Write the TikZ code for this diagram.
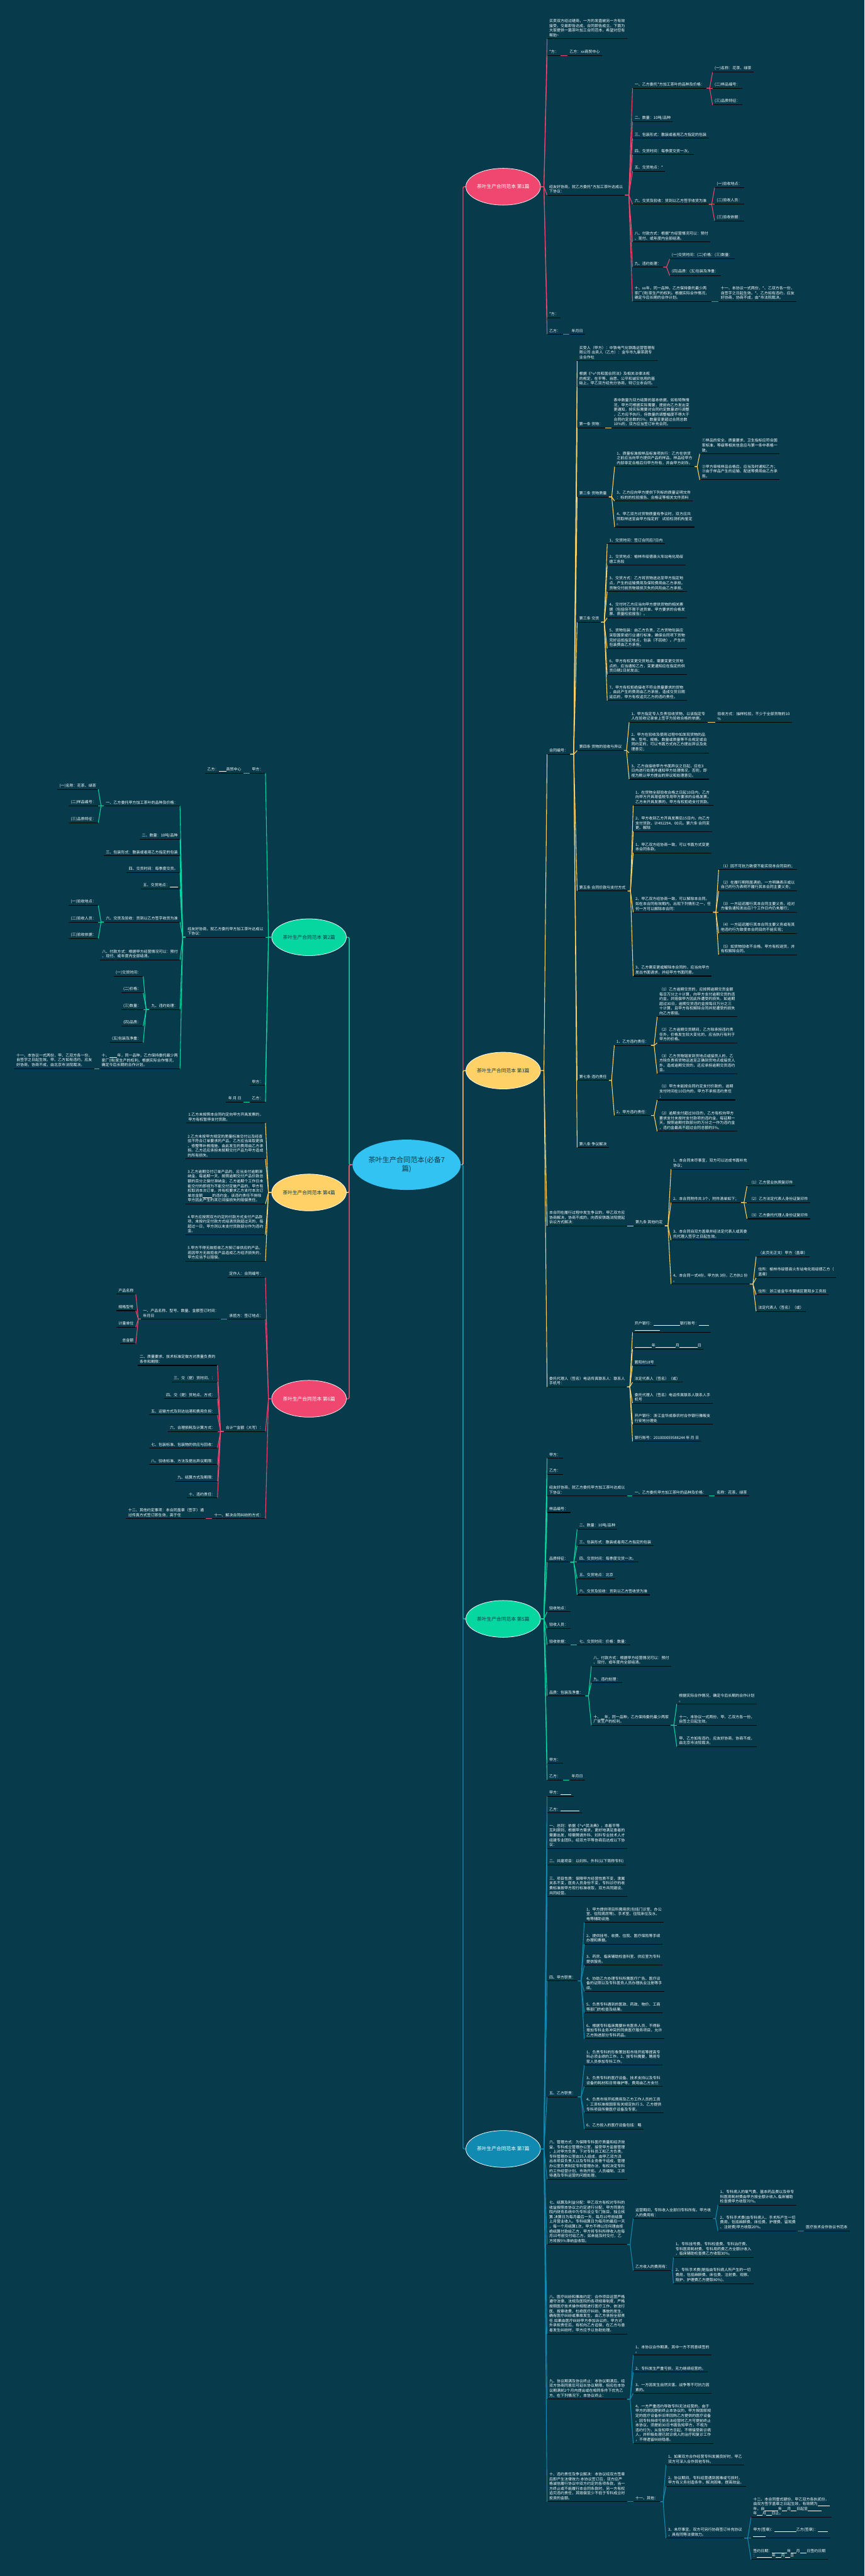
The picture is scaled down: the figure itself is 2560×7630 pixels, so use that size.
\documentclass[tikz,border=0pt]{standalone}
\usepackage{fontspec}
\setmainfont{Noto Sans CJK SC}
\usetikzlibrary{shapes.geometric,calc}
\definecolor{bg}{HTML}{073B4C}
\definecolor{pk}{HTML}{EF476F}
\definecolor{yl}{HTML}{FFD166}
\definecolor{gn}{HTML}{06D6A0}
\definecolor{bu}{HTML}{118AB2}
\definecolor{cb}{HTML}{33C3F3}
\newcommand\tfnt{\fontsize{5.6pt}{7.1pt}\selectfont}
\newcommand\blk[1]{\rule[-0.8pt]{#1}{0.4pt}}
\tikzset{
  lr/.style={anchor=south west, align=left, text=white, font=\tfnt, inner xsep=3pt, inner ysep=2.5pt},
  ll/.style={anchor=south east, align=left, text=white, font=\tfnt, inner xsep=3pt, inner ysep=2.5pt},
  ul/.style={draw=black, line width=1pt},
  br/.style={ellipse, minimum width=110.5pt, minimum height=54.5pt, inner sep=0pt, draw=white, line width=0.7pt, font=\fontsize{7.2pt}{9pt}\selectfont},
  cpk/.style={draw=pk, line width=1pt},
  cyl/.style={draw=yl, line width=1pt},
  cgn/.style={draw=gn, line width=1pt},
  cbu/.style={draw=bu, line width=1pt},
  trunk/.style={line width=1.3pt, rounded corners=2pt}
}
\newcommand\RN[4]{\node[lr] (#1) at (#2,#3) {#4}; \draw[ul] (#1.south west) -- (#1.south east);}
\newcommand\LN[4]{\node[ll] (#1) at (#2,#3) {#4}; \draw[ul] (#1.south west) -- (#1.south east);}
\newcommand\cnx[3]{\draw[#1] let \p1=(#2), \p2=(#3) in (\p1) -- ({0.5*\x1+0.5*\x2},\y1) -- (\p2);}
\newcommand\kidsR[3]{\foreach \kk in {#3}{\cnx{#1}{#2}{\kk.south west}}}
\newcommand\kidsL[3]{\foreach \kk in {#3}{\cnx{#1}{#2}{\kk.south east}}}
\begin{document}
\begin{tikzpicture}[x=0.5pt,y=-0.5pt]
\fill[bg] (0,0) rectangle (2560,7630);
\useasboundingbox (0,0) rectangle (2560,7630);

% central
\node[ellipse, fill=cb, minimum width=156pt, minimum height=74.5pt, inner sep=0pt, align=center, text=bg, font=\fontsize{10.4pt}{13pt}\selectfont] (C) at (1204,3450) {茶叶生产合同范本(必备7\\篇)};

% branch ellipses
\node[br, fill=pk, text=white] (b1) at (1490,553) {茶叶生产合同范本 第1篇};
\node[br, fill=yl, text=bg] (b3) at (1490,3171) {茶叶生产合同范本 第3篇};
\node[br, fill=gn, text=bg] (b5) at (1490,4795) {茶叶生产合同范本 第5篇};
\node[br, fill=bu, text=white] (b7) at (1490,6365) {茶叶生产合同范本 第7篇};
\node[br, fill=gn, text=bg] (b2) at (915,2776) {茶叶生产合同范本 第2篇};
\node[br, fill=yl, text=bg] (b4) at (915,3532) {茶叶生产合同范本 第4篇};
\node[br, fill=pk, text=white] (b6) at (915,4143) {茶叶生产合同范本 第6篇};

\draw[cpk,trunk] (C.east) -- (1371,3450) -- (1371,553) -- (b1.west);
\draw[cyl,trunk] (C.east) -- (1371,3450) -- (1371,3171) -- (b3.west);
\draw[cgn,trunk] (C.east) -- (1371,3450) -- (1371,4795) -- (b5.west);
\draw[cbu,trunk] (C.east) -- (1371,3450) -- (1371,6365) -- (b7.west);
\draw[cgn,trunk] (C.west) -- (1034,3450) -- (1034,2776) -- (b2.east);
\draw[cyl,trunk] (C.west) -- (1034,3450) -- (1034,3532) -- (b4.east);
\draw[cpk,trunk] (C.west) -- (1034,3450) -- (1034,4143) -- (b6.east);

% ---------------- branch 1
\RN{a1}{1620}{115}{买卖双方经过磋商，一方的发盘被另一方有效\\接受，交易即告达成，合同即告成立。下面为\\大家提供一篇茶叶加工合同范本，希望对您有\\帮助\textasciitilde}
\RN{a2}{1620}{164}{*方：}
\RN{a2a}{1680}{164}{乙方：xx商贸中心}
\RN{a3}{1620}{578}{经友好协商，就乙方委托*方加工茶叶达成以\\下协议：}
\RN{a31}{1873}{261}{一、乙方委托*方加工茶叶的品种及价格：}
\RN{a311}{2110}{214}{(一)名称：花茶、绿茶}
\RN{a312}{2110}{261}{(二)样品编号：}
\RN{a313}{2110}{311}{(三)品质特征：}
\RN{a32}{1873}{360}{二、数量：10吨/品种}
\RN{a33}{1873}{409}{三、包装形式：散装或者用乙方指定的包装}
\RN{a34}{1873}{458}{四、交货时间：每季度交货一次。}
\RN{a35}{1873}{507}{五、交货地点：*}
\RN{a36}{1873}{605}{六、交货及验收：货到以乙方签字收货为准}
\RN{a361}{2116}{556}{(一)验收地点：}
\RN{a362}{2116}{605}{(二)验收人员：}
\RN{a363}{2116}{654}{(三)验收依据：}
\RN{a37}{1873}{717}{八、付款方式：根据*方经营情况可以：预付\\、现付、或年度内全部结清。}
\RN{a38}{1873}{791}{九、违约处理：}
\RN{a381}{1983}{767}{(一)交货时间：(二)价格：(三)数量：}
\RN{a382}{1983}{816}{(四)品质：(五)包装及净重：}
\RN{a39}{1873}{893}{十、xx年，同一品种，乙方保持委托最少两\\家厂(场)家生产的权利。根据实际合作情况，\\确定今后长期的合作计划。}
\RN{a391}{2128}{893}{十一、本协议一式两份，*、乙双方各一份，\\自签字之日起生效。*、乙方如有违约，应友\\好协商，协商不成，由*市法院裁决。}
\RN{a4}{1620}{941}{*方：}
\RN{a5}{1620}{990}{乙方：}
\RN{a5a}{1686}{990}{年月日}
\kidsR{cpk}{b1.east}{a1,a2,a3,a4,a5}
\kidsR{cpk}{a2.south east}{a2a}
\kidsR{cpk}{a3.south east}{a31,a32,a33,a34,a35,a36,a37,a38,a39}
\kidsR{cpk}{a31.south east}{a311,a312,a313}
\kidsR{cpk}{a36.south east}{a361,a362,a363}
\kidsR{cpk}{a38.south east}{a381,a382}
\kidsR{cpk}{a39.south east}{a391}
\kidsR{cpk}{a5.south east}{a5a}

% ---------------- branch 3
\RN{c1}{1620}{2234}{合同编号：}
\RN{c2}{1620}{3631}{本合同在履行过程中发生争议的，甲乙双方应\\协商解决，协商不成的，向西安铁路法院提起\\诉讼方式解决：}
\RN{c3}{1620}{4108}{委托代理人（签名）电话传真联系人：联系人\\手机号：}
\RN{c11}{1709}{1069}{买受人（甲方）：中铁电气化铁路运营管理有\\限公司 出卖人（乙方）：金华市九康茶蔬专\\业合作社}
\RN{c12}{1709}{1146}{根据《\textasciicircum v\textasciicircum 共和国合同法》及相关法律法规\\的规定，在平等、自愿、公平和诚实信用的基\\础上，甲乙双方经充分协商，特订立本合同。}
\RN{c13}{1709}{1267}{第一条 货物：}
\RN{c131}{1811}{1267}{表中数量为双方结算的基本依据，如有特殊情\\况，甲方可根据实际需要，提前向乙方发出变\\更通知，按实际需要对合同约定数量进行调整\\，乙方应予执行，但数量的调整幅度不得大于\\合同约定总数的5\%，数量变更超过合同总数\\10\%的，双方应当签订补充合同。}
\RN{c14}{1709}{1472}{第二条 货物质量}
\RN{c141}{1820}{1382}{1、质量标准按样品标准项执行：乙方在供货\\之前应当向甲方提供产品的样品，样品经甲方\\内部审定合格后归甲方所有，并由甲方封存。}
\RN{c1411}{2072}{1344}{①样品的安全、质量要求、卫生指标应符合国\\家标准，等级等相关信息应与第一条中表格一\\致。}
\RN{c1412}{2072}{1421}{②甲方审核样品合格后，应当及时通知乙方；\\③由于样品产生的运输、配送等费用由乙方承\\担。}
\RN{c142}{1820}{1484}{3、乙方应向甲方提供下列标的质量证明文件\\：标的的检验报告、合格证等相关文件资料}
\RN{c143}{1820}{1561}{4、甲乙双方对货物质量有争议时，双方应共\\同取样送至由甲方指定的'试验检测机构鉴定\\。}
\RN{c15}{1709}{1843}{第三条 交货}
\RN{c151}{1798}{1611}{1、交货时间：签订合同后7日内}
\RN{c152}{1798}{1674}{2、交货地点：榆林市绥德县火车站电化局绥\\德工务段}
\RN{c153}{1798}{1752}{3、交货方式：乙方将货物送达至甲方指定地\\点，产生的运输费用及保险费用由乙方承担。\\货物交付前货物毁损灭失的风险由乙方承担。}
\RN{c154}{1798}{1830}{4、交付时乙方应当向甲方提供货物的相关票\\据（包括但不限于送货单、甲方要求的合格发\\票、质量检验报告）。}
\RN{c155}{1798}{1921}{5、货物包装：由乙方负责，乙方货物包装应\\采取国家或行业通行标准，确保合同项下货物\\完好运抵指定地点，包装（不回收）。产生的\\包装费由乙方承担。}
\RN{c156}{1798}{1998}{6、甲方有权变更交货地点，需要变更交货地\\点的，应当通知乙方，变更通知应在指定的供\\货日期2日前发出；}
\RN{c157}{1798}{2075}{7、甲方有权拒绝接收不符合质量要求的货物\\，由此产生的费用由乙方承担，造成交货日期\\延后的，甲方有权追究乙方的违约责任。}
\RN{c16}{1709}{2223}{第四条 货物的验收与异议}
\RN{c161}{1863}{2139}{1、甲方指定专人负责验收货物，以该指定专\\人在验收记录单上签字为验收合格的依据。}
\RN{c1611}{2118}{2139}{验收方式：抽样检验，不少于全部货物的10\\\%}
\RN{c162}{1863}{2230}{2、甲方在验收及使用过程中如发现货物的品\\种、型号、规格、数量或质量等不合规定或合\\同约定的，可以书面方式向乙方提出异议及处\\理意见；}
\RN{c163}{1863}{2308}{3、乙方自接收甲方书面异议之日起，应在3\\日内进行处理并通知甲方处理情况，否则，即\\视为默认甲方提出的异议和处理意见。}
\RN{c17}{1709}{2639}{第五条 合同价款与支付方式}
\RN{c171}{1875}{2386}{1、在货物全部验收合格之日起10日内，乙方\\向甲方开具增值税专用甲方要求的合格发票，\\乙方未开具发票的，甲方有权拒绝支付货款。}
\RN{c172}{1875}{2463}{2、甲方收到乙方开具发票后15日内，向乙方\\支付货款，计492294、00元。第六条 合同变\\更、解除}
\RN{c173}{1875}{2526}{1、甲乙双方经协商一致，可以书面方式变更\\本合同条款。}
\RN{c174}{1875}{2702}{2、甲乙双方经协商一致，可以解除本合同。\\如在本合同有效期内，出现下列情形之一，任\\何一方可以解除本合同：}
\RN{c1741}{2128}{2576}{（1）因不可抗力致使不能实现本合同目的；}
\RN{c1742}{2128}{2639}{（2）在履行期限届满前，一方明确表示或以\\自己的行为表明不履行其本合同主要义务；}
\RN{c1743}{2128}{2702}{（3）一方延迟履行其本合同主要义务，经对\\方催告通知发出后7个工作日内仍未履行；}
\RN{c1744}{2128}{2765}{（4）一方延迟履行其本合同主要义务或有其\\他违约行为致使本合同目的不能实现；}
\RN{c1745}{2128}{2828}{（5）如货物验收不合格，甲方有权退货，并\\有权解除合同。}
\RN{c175}{1875}{2891}{3、乙方需变更或解除本合同的，应当向甲方\\发出书面请求，并经甲方书面同意。}
\RN{c18}{1709}{3200}{第七条 违约责任}
\RN{c181}{1819}{3096}{1、乙方违约责任：}
\RN{c1811}{1946}{3012}{（1）乙方逾期交货的，应按照逾期交货金额\\每日万分之十计算，向甲方支付逾期交货的违\\约金，并赔偿甲方因此所遭受的损失。如逾期\\超过30日，逾期交货违约金按每日万分之三\\十计算，且甲方有权解除合同并就遭受的损失\\向乙方索赔。}
\RN{c1812}{1946}{3089}{（2）乙方逾期交货期间，乙方除承担违约责\\任外，价格发生较大变化的，应当执行有利于\\甲方的价格。}
\RN{c1813}{1946}{3180}{（3）乙方货物错发到货地点或接货人的，乙\\方除负责将货物运送至正确到货地点或接货人\\外，造成逾期交货的，还应承担逾期交货违约\\金。}
\RN{c182}{1819}{3304}{2、甲方违约责任：}
\RN{c1821}{1946}{3258}{（1）甲方未能按合同约定支付价款的，逾期\\支付时间在10日内的，甲方不承担违约责任\\；}
\RN{c1822}{1946}{3351}{（2）逾期支付超过30日的，乙方有权向甲方\\要求支付未按时支付款项的违约金，每延期一\\天，按照逾期付款部分的万分之一作为违约金\\，违约金最高不超过合同总额的5\%。}
\RN{c19}{1709}{3399}{第八条 争议解决}
\RN{c21}{1875}{3631}{第九条 其他约定}
\RN{c211}{1987}{3463}{1、本合同未尽事宜，双方可以达成书面补充\\协议；}
\RN{c212}{1987}{3562}{2、本合同附件共 3个，附件清单如下；}
\RN{c2121}{2212}{3513}{（1）乙方营业执照复印件}
\RN{c2122}{2212}{3562}{（2）乙方法定代表人身份证复印件}
\RN{c2123}{2212}{3610}{（3）乙方委托代理人身份证复印件}
\RN{c213}{1987}{3673}{3、本合同自双方盖章并经法定代表人或其委\\托代理人签字之日起生效。}
\RN{c214}{1987}{3803}{4、本合同一式4份，甲方执 3份，乙方执1 份\\。}
\RN{c2141}{2239}{3722}{（此页无正文）甲方（盖章）}
\RN{c2142}{2239}{3785}{住所：榆林市绥德县火车站电化局绥德乙方（\\盖章）}
\RN{c2143}{2239}{3835}{住所：浙江省金华市婺城区箬阳乡工务段}
\RN{c2144}{2239}{3884}{法定代表人（签名）（或）}
\RN{c31}{1873}{3946}{开户银行：\blk{39pt}银行账号：\blk{15pt}\\\blk{37pt}}
\RN{c32}{1873}{3996}{\blk{25pt}年\blk{30pt}月\blk{27pt}日}
\RN{c33}{1873}{4045}{箬阳村18号}
\RN{c34}{1873}{4094}{法定代表人（签名）（或）}
\RN{c35}{1873}{4156}{委托代理人（签名）电话传真联系人联系人手\\机号}
\RN{c36}{1873}{4219}{开户银行：浙江金华成泰农村合作银行雅畈支\\行安地分理处}
\RN{c37}{1873}{4269}{银行账号：201000059588244 年 月 日}
\kidsR{cyl}{b3.east}{c1,c2,c3}
\kidsR{cyl}{c1.south east}{c11,c12,c13,c14,c15,c16,c17,c18,c19}
\kidsR{cyl}{c13.south east}{c131}
\kidsR{cyl}{c14.south east}{c141,c142,c143}
\kidsR{cyl}{c141.south east}{c1411,c1412}
\kidsR{cyl}{c15.south east}{c151,c152,c153,c154,c155,c156,c157}
\kidsR{cyl}{c16.south east}{c161,c162,c163}
\kidsR{cyl}{c161.south east}{c1611}
\kidsR{cyl}{c17.south east}{c171,c172,c173,c174,c175}
\kidsR{cyl}{c174.south east}{c1741,c1742,c1743,c1744,c1745}
\kidsR{cyl}{c18.south east}{c181,c182}
\kidsR{cyl}{c181.south east}{c1811,c1812,c1813}
\kidsR{cyl}{c182.south east}{c1821,c1822}
\kidsR{cyl}{c2.south east}{c21}
\kidsR{cyl}{c21.south east}{c211,c212,c213,c214}
\kidsR{cyl}{c212.south east}{c2121,c2122,c2123}
\kidsR{cyl}{c214.south east}{c2141,c2142,c2143,c2144}
\kidsR{cyl}{c3.south east}{c31,c32,c33,c34,c35,c36,c37}

% ---------------- branch 5
\RN{e1}{1620}{4319}{甲方：}
\RN{e2}{1620}{4367}{乙方：}
\RN{e3}{1620}{4431}{经友好协商，就乙方委托甲方加工茶叶达成以\\下协议：}
\RN{e31}{1873}{4431}{一、乙方委托甲方加工茶叶的品种及价格：}
\RN{e311}{2116}{4431}{名称：花茶、绿茶}
\RN{e4}{1620}{4480}{样品编号：}
\RN{e5}{1620}{4627}{品质特征：}
\RN{e51}{1709}{4529}{二、数量：10吨/品种}
\RN{e52}{1709}{4578}{三、包装形式：散装或者用乙方指定的包装}
\RN{e53}{1709}{4627}{四、交货时间：每季度交货一次。}
\RN{e54}{1709}{4676}{五、交货地点：北京}
\RN{e55}{1709}{4724}{六、交货及验收：货到以乙方签收货为准}
\RN{e6}{1620}{4774}{验收地点：}
\RN{e7}{1620}{4823}{验收人员：}
\RN{e8}{1620}{4872}{验收依据：}
\RN{e81}{1709}{4872}{七、交货时间：价格：数量：}
\RN{e9}{1620}{5023}{品质：包装及净重：}
\RN{e91}{1751}{4935}{八、付款方式：根据甲方经营情况可以：预付\\、现付、或年度内全部结清。}
\RN{e92}{1751}{4984}{九、违约处理：}
\RN{e93}{1751}{5110}{十、\blk{5pt}年，同一品种，乙方保持委托最少两家\\厂家生产的权利。}
\RN{e931}{2004}{5047}{根据实际合作情况，确定今后长期的合作计划\\。}
\RN{e932}{2004}{5110}{十一、本协议一式两份，甲、乙双方各一份，\\自签之日起生效。}
\RN{e933}{2004}{5173}{甲、乙方如有违约，应友好协商，协商不成，\\由北京市法院裁决。}
\RN{e10}{1620}{5223}{甲方：}
\RN{e11}{1620}{5272}{乙方：}
\RN{e111}{1686}{5272}{年月日}
\kidsR{cgn}{b5.east}{e1,e2,e3,e4,e5,e6,e7,e8,e9,e10,e11}
\kidsR{cgn}{e3.south east}{e31}
\kidsR{cgn}{e31.south east}{e311}
\kidsR{cgn}{e5.south east}{e51,e52,e53,e54,e55}
\kidsR{cgn}{e8.south east}{e81}
\kidsR{cgn}{e9.south east}{e91,e92,e93}
\kidsR{cgn}{e93.south east}{e931,e932,e933}
\kidsR{cgn}{e11.south east}{e111}

% ---------------- branch 7
\RN{g1}{1620}{5321}{甲方：\blk{16pt}}
\RN{g2}{1620}{5370}{乙方：\blk{28pt}}
\RN{g3}{1620}{5475}{一、总则：依据《\textasciicircum v\textasciicircum 民法典》，本着平等\\互利原则，根据甲方需求，更好地满足患者的\\需要出发，特需聘请外科、妇科专业技术人才\\组建专业团队，经双方平等协商后达成以下协\\议：}
\RN{g4}{1620}{5524}{二、共建项目：以妇科、外科(以下简称专科)}
\RN{g5}{1620}{5617}{三、项目性质：保障甲方经营性质不变，隶属\\关系不变，医务人员身份不变，专科诊疗的收\\费标准按甲方现行标准收取，双方共同建设、\\共同经营。}
\RN{g6}{1620}{5867}{四、甲方职责：}
\RN{g61}{1730}{5694}{1、甲方提供项目所需用房(包括门诊室、办公\\室、住院病房等)、手术室、住院床位及水、\\电等辅助设施.}
\RN{g62}{1730}{5758}{2、提供挂号、收费、住院、医疗保险等手续\\办理和票据。}
\RN{g63}{1730}{5821}{3、药房、临床辅助检查科室、供应室为专科\\提供服务。}
\RN{g64}{1730}{5899}{4、协助乙方办理专科所需医疗广告、医疗设\\备的证照以及专科医务人员办理执业注册等手\\续。}
\RN{g65}{1730}{5962}{5、负责专科遇到的医政、药政、物价、工商\\等部门的检查及结果。}
\RN{g66}{1730}{6039}{6、根据专科临床需要补充医务人员，不得新\\增加专科业务冲突的同类医疗服务项目，允许\\乙方购进部分专科药品。}
\RN{g7}{1620}{6211}{五、乙方职责：}
\RN{g71}{1730}{6117}{1、负责专科的形象策划和市场开拓等提高专\\科必须业绩的工作。2、按专科需要，聘用专\\家人员参加专科工作。}
\RN{g72}{1730}{6180}{3、负责专科的医疗设备、技术支持以及专科\\设备的耗材和日常维护等，费用由乙方支付.}
\RN{g73}{1730}{6258}{4、负责市场开拓费用及乙方工作人员的工资\\，工资标准按国家有关规定执行.5、乙方提供\\专科项目所需医疗设备及专家。}
\RN{g74}{1730}{6306}{6、乙方投入的医疗设备包括：略}
\RN{g8}{1620}{6455}{六、管理方式：为保障专科医疗质量和经济效\\益，专科成立管理办公室，接受甲方监督管理\\，上对甲方负责，下对专科员工和乙方负责。\\专科管理办公室由35人组成，由甲乙双方派\\出本项目负责人以及专科业务骨干组成，管理\\办公室负责制定专科管理办法，有权决定专科\\的工作经营计划、市场开拓、人员编制、工资\\待遇及专科运营的问题处理。}
\RN{g9}{1620}{6648}{七、结算及利益分配：甲乙双方有权对专科的\\收益按照本协议之约定进行分配，甲方同意在\\院内财务系统中为专科设立专门账目，独立核\\算.决算日为每月最后一天，每月10号前结算\\上月营业收入。专科结算日为每月的最后一天\\，每一个月结算1次，甲方不得以任何理由拒\\绝结算付款给乙方，甲方将专科所得收入在每\\月10号前交付给乙方，如未能及时交付，乙\\方将按5\%滞纳金收取。}
\RN{g91}{1875}{6571}{运营期间，专科收入全部归专科所有。甲方收\\入的费用有：}
\RN{g911}{2126}{6531}{1、专科病人的氧气费、基本药品费以及非专\\科医用耗材费由甲方按全额计收入.临床辅助\\检查费甲方收取70\%。}
\RN{g912}{2126}{6608}{2、专科手术费(由专科病人、手术所产生一切\\费用，包括麻醉费、床位费、护理费、留观费\\、注射费)甲方收取20\%。}
\RN{g9121}{2380}{6608}{医疗技术合作协议书范本}
\RN{g92}{1875}{6725}{乙方收入的费用有：}
\RN{g921}{1994}{6686}{1、专科挂号费、专科检查费、专科治疗费、\\专科医用耗材费、专科用药费乙方全额计收入\\，临床辅助检查费乙方收取30\%。}
\RN{g922}{1994}{6764}{2、专科手术费(是指由专科病人所产生的一切\\费用，包括麻醉费、床位费、注射费、观察、\\陪护、护理费乙方提取80\%)。}
\RN{g10}{1620}{6913}{八、医疗纠纷和事故约定：合作项目运营严格\\遵守法律、法规及医院的各项规章制度，严格\\按照医疗技术操作规程进行医疗工作，依法行\\医、按章收费，杜绝医疗纠纷、事故的发生，\\确有医疗纠纷或事故发生，由乙方承担全部责\\任.如果由医疗纠纷甲方参加诉讼的，甲方对\\外承担责任后，有权向乙方追偿，在乙方与患\\者发生纠纷时，甲方应予以协助处理。}
\RN{g11}{1620}{7106}{九、协议期满及协议终止：本协议期满后，经\\双方协商同意后可延长协议期限，但应在本协\\议期满前2个月内提出或在相同条件下优先乙\\方。在下列情况下，本协议终止：}
\RN{g111}{1875}{6976}{1、本协议合作期满，其中一方不同意续签的\\。}
\RN{g112}{1875}{7026}{2、专科发生严重亏损，无力继续经营的。}
\RN{g113}{1875}{7089}{3、一方因发生自然灾害、战争等不可抗力因\\素的。}
\RN{g114}{1875}{7237}{4、一方严重违约导致专科无法经营的。由于\\甲方的原因提前终止本协议的，甲方按国家规\\定的医疗设备折旧率回购乙方提供的医疗设备\\。因专科持续亏损无法经营时乙方可提前终止\\本协议，须提前30日书面告知甲方，不视为\\违约行为，从告知甲方日起，不得接受新诊病\\人，并积极处理已就诊病人的治疗和复诊工作\\，不得遗留纠纷隐患。}
\RN{g12}{1620}{7410}{十、违约责任及争议解决：本协议经双方签章\\后即产生法律效力.本协议签订后，双方应严\\格诚信履行协议中双方约定的各项条款，当一\\方终止或不能履行本合同条款时，另一方有权\\追究违约责任，其赔偿至少不低于专科成立时\\投资的金额。}
\RN{g121}{1875}{7410}{十一、其他：}
\RN{g1211}{1972}{7301}{1、如果双方合作经营专科发展良好时，甲乙\\双方可深入合作其他专科。}
\RN{g1212}{1972}{7364}{2、协议期间，专科经营遇到困难或亏损时，\\甲方有义务创造条件，解决困难，提高效益。}
\RN{g1213}{1972}{7518}{3、未尽事宜，双方可另行协商签订补充协议\\，具有同等法律效力。}
\RN{g12131}{2224}{7456}{十二、本合同壹式肆份，甲乙双方各执贰份，\\由双方签字盖章之日起生效，有效期为\blk{18pt}\\年，自\blk{20pt}年\blk{8pt}月\blk{8pt}日起至\blk{20pt}\\年\blk{8pt}月\blk{8pt}日止。}
\RN{g12132}{2224}{7518}{甲方(签章)：\blk{32pt}乙方(签章)：\blk{15pt}\\\blk{18pt}}
\RN{g12133}{2224}{7581}{签约日期：\blk{22pt}年\blk{8pt}月\blk{10pt}日签约日期\\：\blk{22pt}年\blk{8pt}月\blk{8pt}日}
\kidsR{cbu}{b7.east}{g1,g2,g3,g4,g5,g6,g7,g8,g9,g10,g11,g12}
\kidsR{cbu}{g6.south east}{g61,g62,g63,g64,g65,g66}
\kidsR{cbu}{g7.south east}{g71,g72,g73,g74}
\kidsR{cbu}{g9.south east}{g91,g92}
\kidsR{cbu}{g91.south east}{g911,g912}
\kidsR{cbu}{g912.south east}{g9121}
\kidsR{cbu}{g92.south east}{g921,g922}
\kidsR{cbu}{g11.south east}{g111,g112,g113,g114}
\kidsR{cbu}{g12.south east}{g121}
\kidsR{cbu}{g121.south east}{g1211,g1212,g1213}
\kidsR{cbu}{g1213.south east}{g12131,g12132,g12133}

% ---------------- branch 2 (left)
\LN{d1}{786}{2290}{甲方：}
\LN{d1a}{721}{2290}{乙方：\blk{11pt}商贸中心}
\LN{d2}{786}{2776}{经友好协商，就乙方委托甲方加工茶叶达成以\\下协议：}
\LN{d21}{533}{2387}{一、乙方委托甲方加工茶叶的品种及价格：}
\LN{d211}{291}{2338}{(一)名称：花茶、绿茶}
\LN{d212}{291}{2387}{(二)样品编号：}
\LN{d213}{291}{2437}{(三)品质特征：}
\LN{d22}{533}{2486}{二、数量：10吨/品种}
\LN{d23}{533}{2535}{三、包装形式：散装或者用乙方指定的包装}
\LN{d24}{533}{2584}{四、交货时间：每季度交货。}
\LN{d25}{533}{2633}{五、交货地点：\blk{12pt}}
\LN{d26}{533}{2731}{六、交货及验收：货到以乙方签字收货为准}
\LN{d261}{291}{2682}{(一)验收地点：}
\LN{d262}{291}{2731}{(二)验收人员：}
\LN{d263}{291}{2780}{(三)验收依据：}
\LN{d27}{533}{2843}{八、付款方式：根据甲方经营情况可以：预付\\、现付、或年度内全部结清。}
\LN{d28}{533}{2990}{九、违约处理：}
\LN{d281}{424}{2892}{(一)交货时间：}
\LN{d282}{424}{2941}{(二)价格：}
\LN{d283}{424}{2990}{(三)数量：}
\LN{d284}{424}{3039}{(四)品质：}
\LN{d285}{424}{3088}{(五)包装及净重：}
\LN{d29}{533}{3165}{十、\blk{12pt}年，同一品种，乙方保持委托最少两\\家厂(场)家生产的权利。根据实际合作情况，\\确定今后长期的合作计划。}
\LN{d291}{279}{3165}{十一、本协议一式两份，甲、乙双方各一份，\\自签字之日起生效。甲、乙方如有违约，应友\\好协商，协商不成，由北京市法院裁决。}
\LN{d3}{786}{3215}{甲方：}
\LN{d4}{786}{3264}{乙方：}
\LN{d4a}{721}{3264}{年 月 日}
\kidsL{cgn}{b2.west}{d1,d2,d3,d4}
\kidsL{cgn}{d1.south west}{d1a}
\kidsL{cgn}{d2.south west}{d21,d22,d23,d24,d25,d26,d27,d28,d29}
\kidsL{cgn}{d21.south west}{d211,d212,d213}
\kidsL{cgn}{d26.south west}{d261,d262,d263}
\kidsL{cgn}{d28.south west}{d281,d282,d283,d284,d285}
\kidsL{cgn}{d29.south west}{d291}
\kidsL{cgn}{d4.south west}{d4a}

% ---------------- branch 4 (left)
\LN{f1}{786}{3326}{1.乙方未按照本合同约定向甲方开具发票的，\\甲方有权暂停支付货款。}
\LN{f2}{786}{3433}{2.乙方未按甲方规定的质量标准交付以及经查\\验不符合订单要求的产品，乙方应当采取更换\\、修整等补救措施，由此发生的费用由乙方承\\担。乙方还应承担未按期交付产品为甲方造成\\的所有损失。}
\LN{f3}{786}{3566}{3.乙方逾期交付订单产品的，应当支付逾期滞\\纳金，每逾期一天，按照逾期交付产品价款总\\额的百分之偿付滞纳金；乙方逾期个工作日未\\能交付的即视为不能交付定做产品的，甲方有\\权取消本次订单，并有权要求乙方支付本次订\\单总金额\blk{14pt}的违约金，该违约责任不排除\\甲方因此产生的其它间接损失的赔偿责任。}
\LN{f4}{786}{3657}{4.甲方应按照双方约定的付款方式支付产品款\\项，未按约定付款方式结清货款超过天的，每\\超过一日，甲方则以未支付货款部分作为违约\\金。}
\LN{f5}{786}{3735}{5.甲方不得无故拒收乙方按订单供应的产品，\\若因甲方无故拒收产品造成乙方经济损失的，\\甲方应当予以赔偿。}
\kidsL{cyl}{b4.west}{f1,f2,f3,f4,f5}

% ---------------- branch 6 (left)
\LN{h1}{786}{3784}{定作人：合同编号：}
\LN{h2}{786}{3907}{承揽方：签订地点：}
\LN{h21}{654}{3907}{一、产品名称、型号、数量、金额签订时间：\\年月日}
\LN{h211}{402}{3833}{产品名称}
\LN{h212}{402}{3882}{规格型号}
\LN{h213}{402}{3931}{计量单位}
\LN{h214}{402}{3980}{总金额}
\LN{h3}{786}{4240}{合计**金额（大写）：}
\LN{h31}{644}{4044}{二、质量要求、技术标准定做方对质量负责的\\条件和期限：}
\LN{h32}{644}{4093}{三、交（提）货时间、：}
\LN{h33}{644}{4142}{四、交（提）货地点、方式：}
\LN{h34}{644}{4191}{五、运输方式及到达站港和费用负担：}
\LN{h35}{644}{4240}{六、合理损耗及计算方式：}
\LN{h36}{644}{4289}{七、包装标准、包装物的供应与回收：}
\LN{h37}{644}{4338}{八、验收标准、方法及提出异议期限：}
\LN{h38}{644}{4387}{九、结算方式及期限：}
\LN{h39}{644}{4436}{十、违约责任：}
\LN{h4}{786}{4498}{十一、解决合同纠纷的方式：}
\LN{h41}{610}{4498}{十二、其他约定事项：本合同盖章（签字）通\\过传真方式签订即生效，高于任}
\kidsL{cpk}{b6.west}{h1,h2,h3,h4}
\kidsL{cpk}{h2.south west}{h21}
\kidsL{cpk}{h21.south west}{h211,h212,h213,h214}
\kidsL{cpk}{h3.south west}{h31,h32,h33,h34,h35,h36,h37,h38,h39}
\kidsL{cpk}{h4.south west}{h41}
\end{tikzpicture}
\end{document}
